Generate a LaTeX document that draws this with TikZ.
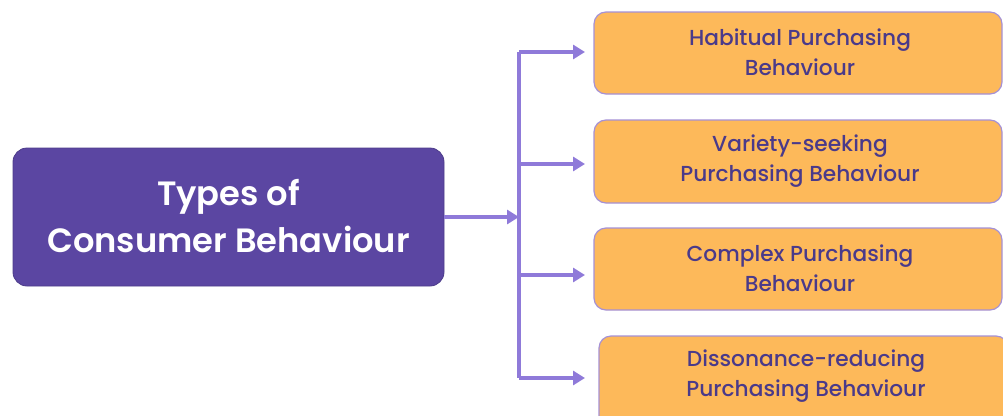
\documentclass[tikz,border=0pt]{standalone}
\usepackage{fontspec}
\setmainfont{Poppins}
\newfontfamily\pmedium{Poppins Medium}
\newfontfamily\psemi{Poppins SemiBold}
\usetikzlibrary{arrows.meta}
\definecolor{mainpurple}{HTML}{5B46A2}
\definecolor{arrowpurple}{HTML}{8F7AD9}
\definecolor{boxorange}{HTML}{FDB95A}
\definecolor{boxborder}{HTML}{A591D6}
\definecolor{textpurple}{HTML}{4A3A8A}
\tikzset{
  mainbox/.style={draw=mainpurple!85!black, line width=0.8pt, fill=mainpurple, rounded corners=14pt},
  typebox/.style={draw=boxborder, line width=1.2pt, fill=boxorange, rounded corners=12pt},
  maintext/.style={text=white, font=\psemi\fontsize{33.7}{47}\selectfont, align=center},
  typetext/.style={text=textpurple, font=\pmedium\fontsize{21.7}{30}\selectfont, align=center},
  conn/.style={draw=arrowpurple, line width=3.2pt},
  arr/.style={conn, -{Triangle[length=12pt,width=14pt]}}
}
\begin{document}
\begin{tikzpicture}[x=1pt,y=-1pt]
\useasboundingbox (0,0) rectangle (1003,415);
\clip (0,0) rectangle (1003,415);
% main box
\draw[mainbox] (13,148) rectangle (444,286);
\node[maintext] (main) at (228.5,216) {Types of\\Consumer Behaviour};
\coordinate (mainR) at (444,217);
\coordinate (junc) at (519,217);
% type boxes
\draw[typebox] (594,12) rectangle (1002,94);
\node[typetext] (t1) at (800,52.5) {Habitual Purchasing\\Behaviour};
\draw[typebox] (594,120) rectangle (1002,203);
\node[typetext] (t2) at (800,161) {Variety-seeking\\Purchasing Behaviour};
\draw[typebox] (594,228) rectangle (1002,310);
\node[typetext] (t3) at (800,268.5) {Complex Purchasing\\Behaviour};
\draw[typebox] (599,336) rectangle (1008,430);
\node[typetext] (t4) at (806,376.5) {Dissonance-reducing\\Purchasing Behaviour};
% connector anchors
\coordinate (top) at (519,52);
\coordinate (bot) at (519,378);
\coordinate (b1) at (519,52);
\coordinate (b2) at (519,164);
\coordinate (b3) at (519,275);
\coordinate (b4) at (519,378);
\coordinate (e1) at (585,52);
\coordinate (e2) at (585,164);
\coordinate (e3) at (585,275);
\coordinate (e4) at (585,378);
\draw[conn] (top) -- (bot);
\draw[arr] (mainR) -- (junc);
\draw[arr] (b1) -- (e1);
\draw[arr] (b2) -- (e2);
\draw[arr] (b3) -- (e3);
\draw[arr] (b4) -- (e4);
\end{tikzpicture}
\end{document}
